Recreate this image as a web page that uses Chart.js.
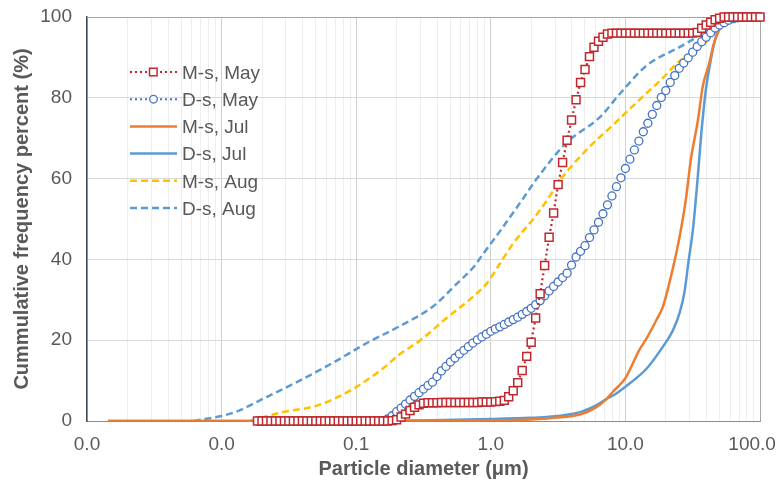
<!DOCTYPE html>
<html>
<head>
<meta charset="utf-8">
<script src="https://cdn.jsdelivr.net/npm/chart.js@4.4.1/dist/chart.umd.min.js"></script>
<style>
  html, body { margin: 0; padding: 0; background: #fff; }
  #wrap { width: 782px; height: 482px; }
</style>
</head>
<body>
<div id="wrap"><canvas id="psdChart" width="782" height="482"></canvas></div>
<script>
// 粒徑 (μm)：五月樣本的量測分檔
const mayDiameter = [
  0.01848, 0.01995, 0.02154, 0.02326, 0.02512, 0.02712, 0.02929, 0.03162, 0.03415, 0.03687, 0.03981,
  0.04299, 0.04642, 0.05012, 0.05412, 0.05843, 0.06310, 0.06813, 0.07356, 0.07943, 0.08577, 0.09261,
  0.1000, 0.1080, 0.1166, 0.1259, 0.1359, 0.1468, 0.1585, 0.1711, 0.1848, 0.1995, 0.2154, 0.2326,
  0.2512, 0.2712, 0.2929, 0.3162, 0.3415, 0.3687, 0.3981, 0.4299, 0.4642, 0.5012, 0.5412, 0.5843,
  0.6310, 0.6813, 0.7356, 0.7943, 0.8577, 0.9261,
  1.000, 1.080, 1.166, 1.259, 1.359, 1.468, 1.585, 1.711, 1.848, 1.995, 2.154, 2.326, 2.512, 2.712,
  2.929, 3.162, 3.415, 3.687, 3.981, 4.299, 4.642, 5.012, 5.412, 5.843, 6.310, 6.813, 7.356, 7.943,
  8.577, 9.261,
  10.00, 10.80, 11.66, 12.59, 13.59, 14.68, 15.85, 17.11, 18.48, 19.95, 21.54, 23.26, 25.12, 27.12,
  29.29, 31.62, 34.15, 36.87, 39.81, 42.99, 46.42, 50.12, 54.12, 58.43, 63.10, 68.13, 73.56, 79.43,
  85.77, 92.61, 100.0
];
const msMay = [
  0, 0, 0, 0, 0, 0, 0, 0, 0, 0, 0, 0, 0, 0, 0, 0, 0, 0, 0, 0, 0, 0, 0, 0, 0, 0, 0, 0, 0,
  0, 0.1, 0.3, 1.0, 1.7, 2.6, 3.4, 4.0, 4.4,
  4.5, 4.5, 4.5, 4.6, 4.6, 4.6, 4.6, 4.6, 4.6, 4.6, 4.6, 4.6, 4.7, 4.7, 4.7, 4.8, 4.9,
  5.1, 6.0, 7.5, 9.5, 12.5, 16, 19.5, 25.5, 31.5, 38.5, 45.5, 51.5, 58.5, 64, 69.5, 74.5, 79.5,
  83.8, 87, 90.2, 92.5, 94, 95, 95.8,
  96, 96, 96, 96, 96, 96, 96, 96, 96, 96, 96, 96, 96, 96, 96, 96, 96, 96, 96,
  96.2, 97.2, 98, 98.7, 99.3, 99.7,
  100, 100, 100, 100, 100, 100, 100, 100, 100
];
const dsMay = [
  0, 0, 0, 0, 0, 0, 0, 0, 0, 0, 0, 0, 0, 0, 0, 0, 0, 0, 0, 0, 0, 0, 0, 0, 0, 0, 0, 0,
  0.1, 0.5, 1.3, 2.3, 3.2, 4.2, 5.2, 6.1, 7.0, 7.9, 8.8, 9.6,
  11.0, 12.4, 13.5, 14.6, 15.6, 16.6, 17.5, 18.4, 19.3, 20.1, 20.8, 21.5,
  22.2, 22.8, 23.3, 23.9, 24.5, 25.1, 25.7, 26.4, 27.1, 27.9, 28.8, 29.8, 31.0, 32.2, 33.3, 34.4,
  35.5, 36.6,
  38.6, 40.6, 42, 43.4, 45.4, 47.3, 49.2, 51.3, 53.5, 55.7, 58, 60.2, 62.5, 64.8, 67.1, 69.3, 71.6,
  73.7, 75.9, 78.1, 80.1, 81.8, 83.8, 85.5, 87.3, 88.6, 89.9, 91.3, 92.7, 93.9, 95, 96.1, 97.3, 98,
  98.6, 99.2, 99.6,
  99.8, 100, 100, 100, 100, 100
];

// 七月樣本
const msJulDiameter = [0.00143, 0.01, 0.1, 0.5, 1, 2, 3, 4.6, 6, 7.26, 8.1, 10, 12.7, 14.4, 17, 19,
  22.6, 25.4, 28.1, 30.6, 34.6, 37.5, 41.9, 46, 52, 58, 70, 100];
const msJul = [0, 0, 0, 0.05, 0.15, 0.4, 0.8, 1.6, 3.3, 5.5, 7.3, 10.6, 17.6, 20.5, 25, 28.3,
  38, 46, 54.7, 64.6, 74.5, 82.7, 88.5, 94, 98, 99.6, 100, 100];
const dsJulDiameter = [0.00143, 0.01, 0.1, 0.3, 1, 2, 2.6, 4.6, 6, 7.26, 8.1, 10, 14.4, 19, 22.6,
  25.4, 27.5, 29.3, 31.9, 34.6, 36.6, 39.6, 42.9, 46, 52, 60, 70, 100];
const dsJul = [0, 0, 0.05, 0.15, 0.5, 0.8, 1.0, 2.2, 3.8, 5.5, 6.3, 8.5, 13, 18.4, 22.5,
  27, 32, 39, 48, 61, 71, 82, 89, 94, 98.5, 99.8, 100, 100];

// 八月樣本
const msAugDiameter = [0.0163, 0.0285, 0.051, 0.09, 0.158, 0.21, 0.3, 0.47, 0.74, 0.93, 1.17, 1.47,
  2.1, 2.6, 3.25, 5.1, 8.1, 12.7, 19.9, 24, 37.5, 44.6, 52, 61, 100];
const msAug = [0.1, 2.2, 3.8, 7.5, 13, 16.5, 20, 25.5, 30.8, 34, 39, 44, 50.3, 54.5, 59.5, 67,
  73.3, 79.5, 85.6, 88.5, 93, 95.5, 98, 99.3, 100];
const dsAugDiameter = [0.0062, 0.0121, 0.0218, 0.038, 0.067, 0.12, 0.211, 0.37, 0.56, 0.74, 0.87,
  1.17, 1.65, 2.2, 3.6, 6.5, 9.1, 14.4, 25.4, 34, 44.6, 52, 60, 100];
const dsAug = [0, 2, 6, 10, 14.4, 19.3, 23.5, 28.3, 34, 38, 41.2, 47, 54, 60, 68.7, 75.3, 81, 88,
  92.6, 95.1, 98, 99.3, 99.8, 100];

// X 軸刻度 (每個十進位) 與 Y 軸範圍
const decadeTicks = [0.001, 0.01, 0.1, 1, 10, 100];
const minorSteps = [2, 3, 4, 5, 6, 7, 8, 9];

const textColor = '#595959';
const fontFamily = '"Liberation Sans", Arial, sans-serif';

function toPoints(xs, ys) {
  return xs.map((x, i) => ({ x: x, y: ys[i] }));
}

// 在繪圖區內畫圖例
const innerLegend = {
  id: 'innerLegend',
  afterDraw(chart) {
    const c = chart.ctx;
    c.save();
    chart.data.datasets.forEach((ds, i) => {
      const y = 72 + 27.2 * i;
      c.strokeStyle = ds.borderColor;
      c.lineWidth = ds.borderWidth;
      c.setLineDash(ds.borderDash || []);
      c.beginPath();
      c.moveTo(130, y);
      c.lineTo(177, y);
      c.stroke();
      c.setLineDash([]);
      if (ds.pointRadius > 0) {
        c.fillStyle = '#fff';
        c.strokeStyle = ds.pointBorderColor;
        c.lineWidth = ds.pointBorderWidth;
        c.beginPath();
        if (ds.pointStyle === 'rect') {
          c.rect(149.5, y - 3.8, 7.6, 7.6);
        } else {
          c.arc(153.5, y, 3.8, 0, Math.PI * 2);
        }
        c.fill();
        c.stroke();
      }
      c.fillStyle = textColor;
      c.font = '19px ' + fontFamily;
      c.textBaseline = 'middle';
      c.fillText(ds.label, 182, y + 1.5);
    });
    c.restore();
  }
};

// 繪圖區上方與右方的框線
const frameLines = {
  id: 'frameLines',
  beforeDatasetsDraw(chart) {
    const a = chart.chartArea;
    const c = chart.ctx;
    c.save();
    c.strokeStyle = '#A6A6A6';
    c.lineWidth = 1;
    c.beginPath();
    c.moveTo(a.left, a.top + 0.5);
    c.lineTo(a.right + 0.5, a.top + 0.5);
    c.lineTo(a.right + 0.5, a.bottom);
    c.stroke();
    c.restore();
  }
};

const ctx = document.getElementById('psdChart').getContext('2d');
new Chart(ctx, {
  type: 'line',
  data: {
    datasets: [
      {
        label: 'M-s, May',
        data: toPoints(mayDiameter, msMay),
        borderColor: '#C0282D',
        borderWidth: 2.2,
        borderDash: [2, 3],
        pointStyle: 'rect',
        pointRadius: 5.6,
        pointBorderColor: '#C0282D',
        pointBackgroundColor: '#fff',
        pointBorderWidth: 1.5,
        tension: 0,
        clip: false
      },
      {
        label: 'D-s, May',
        data: toPoints(mayDiameter, dsMay),
        borderColor: '#4472C4',
        borderWidth: 2,
        borderDash: [2, 3],
        pointStyle: 'circle',
        pointRadius: 4,
        pointBorderColor: '#4472C4',
        pointBackgroundColor: '#fff',
        pointBorderWidth: 1.3,
        tension: 0,
        clip: false
      },
      {
        label: 'M-s, Jul',
        data: toPoints(msJulDiameter, msJul),
        borderColor: '#ED7D31',
        borderWidth: 2.5,
        pointRadius: 0,
        cubicInterpolationMode: 'monotone'
      },
      {
        label: 'D-s, Jul',
        data: toPoints(dsJulDiameter, dsJul),
        borderColor: '#5B9BD5',
        borderWidth: 2.5,
        pointRadius: 0,
        cubicInterpolationMode: 'monotone'
      },
      {
        label: 'M-s, Aug',
        data: toPoints(msAugDiameter, msAug),
        borderColor: '#FFC000',
        borderWidth: 2.5,
        borderDash: [7, 4],
        pointRadius: 0,
        cubicInterpolationMode: 'monotone'
      },
      {
        label: 'D-s, Aug',
        data: toPoints(dsAugDiameter, dsAug),
        borderColor: '#5B9BD5',
        borderWidth: 2.5,
        borderDash: [7, 4],
        pointRadius: 0,
        cubicInterpolationMode: 'monotone'
      }
    ]
  },
  options: {
    responsive: false,
    animation: false,
    layout: { padding: { top: 17, right: 22, left: 0, bottom: 0 } },
    plugins: {
      legend: { display: false },
      tooltip: { enabled: false }
    },
    scales: {
      x: {
        type: 'logarithmic',
        position: 'bottom',
        min: 0.001,
        max: 100,
        afterFit(scale) {
          scale.height = 61;
          scale.paddingLeft = 0;
          scale.paddingRight = 0;
        },
        afterBuildTicks(scale) {
          const list = [];
          decadeTicks.forEach(d => {
            list.push({ value: d, major: true });
            if (d < 100) minorSteps.forEach(m => list.push({ value: d * m, major: false }));
          });
          scale.ticks = list;
        },
        grid: {
          drawTicks: false,
          color: c => (c.tick && c.tick.major) ? '#D0D0D0' : '#EEEEEE'
        },
        border: { color: '#8C8C8C', width: 1 },
        ticks: {
          autoSkip: false,
          maxRotation: 0,
          padding: 12,
          color: textColor,
          font: { family: fontFamily, size: 19 },
          callback: (value, index, ticks) => {
            if (!ticks[index].major) return '';
            const text = Number(value).toFixed(1);
            // 最右側標籤向左縮，避免超出畫面
            return index === ticks.length - 1 ? text + '\u00A0\u00A0\u00A0' : text;
          }
        },
        title: {
          display: true,
          text: 'Particle diameter (μm)',
          color: textColor,
          font: { family: fontFamily, size: 20, weight: 'bold' },
          padding: { top: 0, bottom: 1 }
        }
      },
      y: {
        min: 0,
        max: 100,
        afterFit(scale) {
          scale.width = 87;
          scale.paddingTop = 0;
          scale.paddingBottom = 0;
        },
        grid: { drawTicks: false, color: '#D9D9D9' },
        border: { color: '#3C4A5C', width: 1.5 },
        ticks: {
          stepSize: 20,
          padding: 15,
          color: textColor,
          font: { family: fontFamily, size: 19 }
        },
        title: {
          display: true,
          text: 'Cummulative frequency percent (%)',
          color: textColor,
          font: { family: fontFamily, size: 20, weight: 'bold' },
          padding: { top: 10, bottom: 0 }
        }
      }
    }
  },
  plugins: [frameLines, innerLegend]
});
</script>
</body>
</html>
